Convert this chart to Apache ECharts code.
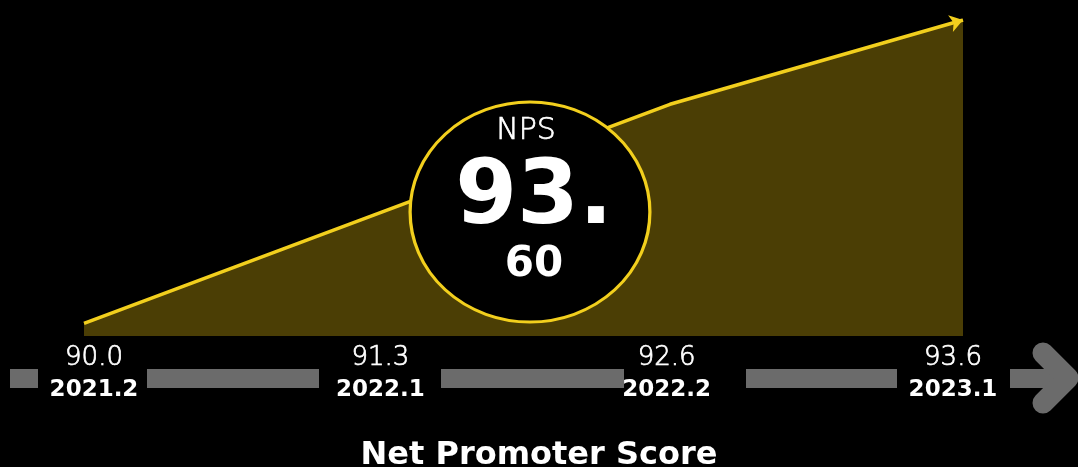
<!DOCTYPE html>
<html>
<head>
<meta charset="utf-8">
<script src="https://cdn.jsdelivr.net/npm/echarts@6/dist/echarts.min.js"></script>
<style>
  html, body { margin: 0; padding: 0; background: #000; }
  #chart { width: 1078px; height: 467px; }
</style>
</head>
<body>
<div id="chart"></div>
<script>
// NPS by period
var periods = ['2021.2', '2022.1', '2022.2', '2023.1'];
var npsValues = [90.0, 91.3, 92.6, 93.6];
var chartTitle = 'Net Promoter Score';

var FONT = '"DejaVu Sans", "Noto Sans", sans-serif';
var YELLOW = '#f2cf1d';
var GRAY = '#6b6b6b';

var chart = echarts.init(document.getElementById('chart'));

// last point gets an arrow head, others no symbol
var lineData = npsValues.map(function (v, i) {
  if (i === npsValues.length - 1) {
    return { value: v, symbol: 'arrow', symbolSize: [13, 13], symbolRotate: -74 };
  }
  return { value: v, symbol: 'none' };
});

var latest = npsValues[npsValues.length - 1].toFixed(2).split('.');

var option = {
  backgroundColor: '#000',
  animation: false,
  title: {
    text: chartTitle,
    left: 'center',
    top: 435,
    textStyle: { color: '#fff', fontSize: 32, fontWeight: 'bold', fontFamily: FONT }
  },
  grid: [
    { left: 84, right: 115, top: 20, height: 316 },
    { left: 94, right: 125, top: 340, height: 1 }
  ],
  xAxis: [
    {
      type: 'category',
      gridIndex: 0,
      data: periods,
      boundaryGap: false,
      axisLine: { show: false },
      axisTick: { show: false },
      axisLabel: { show: false },
      splitLine: { show: false }
    },
    {
      type: 'category',
      gridIndex: 1,
      data: periods,
      boundaryGap: false,
      axisLine: { show: false },
      axisTick: { show: false },
      splitLine: { show: false },
      axisLabel: {
        interval: 0,
        margin: 2,
        formatter: function (val, idx) {
          return '{v|' + npsValues[idx].toFixed(1) + '}\n{d|' + val + '}';
        },
        rich: {
          v: {
            color: '#fff', fontSize: 26, fontWeight: 200, fontFamily: FONT, lineHeight: 31,
            textBorderColor: '#fff', textBorderWidth: 0.7
          },
          d: { color: '#fff', fontSize: 23, fontWeight: 'bold', fontFamily: FONT, lineHeight: 33 }
        }
      }
    }
  ],
  yAxis: [
    { type: 'value', gridIndex: 0, min: 89.85, max: 93.6, show: false },
    { type: 'value', gridIndex: 1, show: false }
  ],
  series: [
    {
      type: 'line',
      xAxisIndex: 0,
      yAxisIndex: 0,
      data: lineData,
      lineStyle: { color: YELLOW, width: 3.5 },
      itemStyle: { color: YELLOW },
      areaStyle: { color: '#4b3e05', opacity: 1, origin: 'start' },
      z: 2
    }
  ],
  graphic: [
    // axis bar pieces
    { type: 'rect', shape: { x: 10, y: 369, width: 28, height: 19 }, style: { fill: GRAY } },
    { type: 'rect', shape: { x: 147, y: 369, width: 172, height: 19 }, style: { fill: GRAY } },
    { type: 'rect', shape: { x: 441, y: 369, width: 183, height: 19 }, style: { fill: GRAY } },
    { type: 'rect', shape: { x: 746, y: 369, width: 151, height: 19 }, style: { fill: GRAY } },
    { type: 'rect', shape: { x: 1010, y: 369, width: 58, height: 19 }, style: { fill: GRAY } },
    {
      type: 'polyline',
      shape: { points: [[1043, 353], [1068, 378], [1043, 403]] },
      style: { stroke: GRAY, lineWidth: 21, lineCap: 'round', lineJoin: 'round', fill: null }
    },
    // badge
    {
      type: 'circle',
      shape: { cx: 530, cy: 212, r: 110 },
      scaleX: 1.09,
      originX: 530,
      originY: 212,
      style: { fill: '#000', stroke: YELLOW, lineWidth: 3 },
      z: 10
    },
    {
      type: 'text', x: 526, y: 131, z: 11,
      style: {
        text: 'NPS', fill: '#fff', font: '200 30px ' + FONT, align: 'center', verticalAlign: 'middle',
        stroke: '#fff', lineWidth: 0.7
      }
    },
    {
      type: 'text', x: 534, y: 200, z: 11,
      style: { text: latest[0] + '.', fill: '#fff', font: 'bold 89px ' + FONT, align: 'center', verticalAlign: 'middle' }
    },
    {
      type: 'text', x: 534, y: 265, z: 11,
      style: { text: latest[1], fill: '#fff', font: 'bold 42px ' + FONT, align: 'center', verticalAlign: 'middle' }
    }
  ]
};

chart.setOption(option);
</script>
</body>
</html>
